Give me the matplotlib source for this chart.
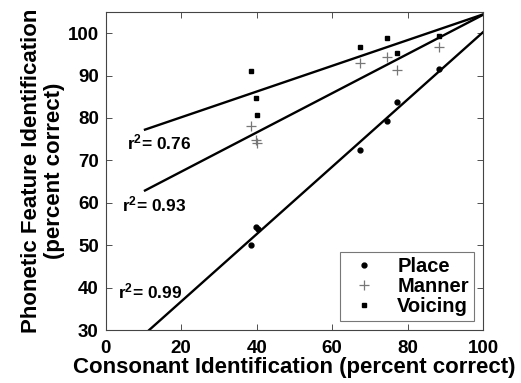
import matplotlib
matplotlib.use("Agg")
import matplotlib.pyplot as plt
import numpy as np

plt.rcParams["font.family"] = ["Liberation Sans", "DejaVu Sans"]
plt.rcParams["font.weight"] = "bold"
plt.rcParams["mathtext.fontset"] = "custom"
plt.rcParams["mathtext.rm"] = "Liberation Sans:bold"
plt.rcParams["mathtext.it"] = "Liberation Sans:bold"
plt.rcParams["mathtext.bf"] = "Liberation Sans:bold"

# consonant identification (x) for each listener condition
place_x = [38.5, 39.7, 40.3, 67.5, 74.6, 77.2, 88.4]
place_y = [50.0, 54.3, 53.9, 72.4, 79.4, 83.7, 91.6]
manner_x = [38.5, 39.7, 40.2, 67.5, 74.6, 77.2, 88.4]
manner_y = [78.2, 74.9, 74.1, 92.9, 94.3, 91.4, 96.8]
voicing_x = [38.5, 39.7, 40.2, 67.5, 74.6, 77.2, 88.4]
voicing_y = [91.0, 84.7, 80.6, 96.7, 98.8, 95.3, 99.3]

# regression lines (slope, intercept) and r^2 labels
fit_place = (0.793, 20.9)
fit_manner = (0.462, 58.1)
fit_voicing = (0.303, 74.1)
fit_range = (10.4, 100)
r2_labels = ["r$^2$= 0.76", "r$^2$= 0.93", "r$^2$= 0.99"]
r2_pos = [(5.5, 74.2), (4.2, 59.6), (3.3, 39.2)]

fig, ax = plt.subplots(figsize=(5.21, 3.83), dpi=100)
fig.subplots_adjust(left=0.203, right=0.927, top=0.969, bottom=0.138)

xs = np.array(fit_range)
for slope, icpt in (fit_place, fit_manner, fit_voicing):
    ax.plot(xs, slope * xs + icpt, color="black", lw=1.7)

ax.plot(place_x, place_y, "o", color="black", ms=3.5, ls="none", label="Place")
ax.plot(manner_x, manner_y, "+", color="#777777", ms=7, mew=0.9, ls="none", label="Manner")
ax.plot(voicing_x, voicing_y, "s", color="black", ms=3, ls="none", label="Voicing")

for txt, (tx, ty) in zip(r2_labels, r2_pos):
    ax.text(tx, ty, txt, fontsize=12.5, fontweight="bold", va="center", ha="left")

ax.set_xlim(0, 100)
ax.set_ylim(30, 105)
ax.set_xticks(range(0, 101, 20))
ax.set_yticks(range(30, 101, 10))
ax.tick_params(direction="in", top=True, right=True, labelsize=13.5, length=4, width=0.6,
               colors="#333333", labelcolor="black")
ax.tick_params(axis="x", pad=7)
ax.tick_params(axis="y", pad=5)
for label in ax.get_xticklabels() + ax.get_yticklabels():
    label.set_fontweight("bold")
for spine in ax.spines.values():
    spine.set_linewidth(0.8)
    spine.set_color("#444444")

ax.set_xlabel("Consonant Identification (percent correct)", fontsize=16, fontweight="bold", labelpad=0)
ax.set_ylabel("Phonetic Feature Identification\n(percent correct)", fontsize=16, fontweight="bold",
              labelpad=2, linespacing=1.15)

leg = ax.legend(loc="lower right", fontsize=14.5, frameon=True, fancybox=False, edgecolor="#555555",
                borderpad=0.25, handletextpad=0.7, labelspacing=0.05, borderaxespad=0.45,
                handlelength=1.9)
leg.get_frame().set_linewidth(0.8)
for t in leg.get_texts():
    t.set_fontweight("bold")

fig.savefig("out.png", dpi=100)
